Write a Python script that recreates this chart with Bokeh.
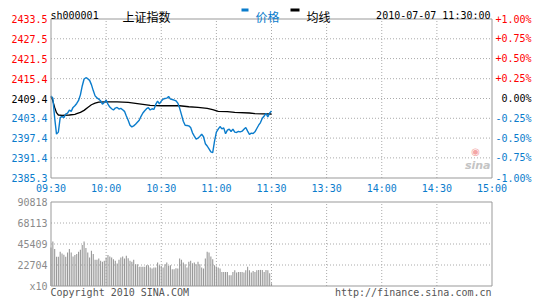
from bokeh.plotting import figure
from bokeh.models import Range1d, ColumnDataSource
from bokeh.core.properties import value
from bokeh.embed import file_html
from bokeh.resources import INLINE

# ---------------- data ----------------
minutes = list(range(121))  # minutes after 09:30
price = [2410.2, 2409.5, 2403.5, 2398.6, 2399.2, 2403.6, 2404.0, 2403.6, 2404.7, 2405.0,
         2405.9, 2405.5, 2406.7, 2407.2, 2407.9, 2408.8, 2410.5, 2413.2, 2415.3, 2415.7,
         2415.4, 2414.9, 2413.6, 2411.8, 2410.2, 2409.6, 2409.2, 2408.7, 2407.7, 2408.2,
         2408.9, 2407.7, 2406.8, 2406.3, 2405.9, 2406.5, 2406.7, 2406.2, 2406.4, 2406.0,
         2405.5, 2404.1, 2402.8, 2401.3, 2400.8, 2401.1, 2401.6, 2402.2, 2402.8, 2404.0,
         2405.0, 2405.7, 2406.3, 2406.6, 2405.9, 2406.3, 2406.1, 2407.6, 2408.6, 2407.8,
         2408.6, 2409.2, 2409.4, 2409.5, 2410.0, 2409.2, 2409.1, 2408.9, 2408.7, 2408.0,
         2406.5, 2404.5, 2402.5, 2401.3, 2401.2, 2401.1, 2400.6, 2399.0, 2398.0, 2397.1,
         2397.4, 2397.9, 2398.6, 2397.8, 2395.7, 2395.0, 2394.1, 2393.2, 2393.0, 2396.5,
         2399.2, 2400.1, 2400.9, 2400.2, 2400.5, 2398.7, 2399.8, 2400.1, 2399.4, 2400.1,
         2399.2, 2399.1, 2399.4, 2399.3, 2399.5, 2400.1, 2400.6, 2399.5, 2398.5, 2398.9,
         2398.8, 2399.3, 2400.3, 2401.3, 2402.1, 2403.4, 2404.1, 2404.9, 2403.8, 2405.0,
         2405.6]

avg_minutes = [0, 1, 2, 3, 4, 6, 10, 13, 14, 16, 18, 20, 22, 24, 26, 30, 36, 42, 46, 50,
               54, 60, 70, 75, 80, 85, 88, 91, 96, 100, 108, 111, 120]
avg_price = [2410.0, 2408.7, 2406.7, 2405.1, 2404.4, 2404.3, 2404.4, 2404.6, 2404.8, 2405.2,
             2405.8, 2406.7, 2407.5, 2408.0, 2408.3, 2408.4, 2408.4, 2408.2, 2407.9, 2407.6,
             2407.3, 2407.2, 2407.2, 2406.9, 2406.7, 2406.4, 2406.0, 2405.5, 2405.4, 2405.2,
             2405.0, 2404.8, 2404.7]

volume = [41700, 48000, 40000, 31600, 31600, 37000, 35200, 33800, 31600, 36300,
          40000, 36300, 32000, 33400, 34500, 37000, 39200, 44300, 48000, 41000,
          36300, 30900, 38100, 34500, 28300, 28300, 29800, 27200, 26100, 27200,
          30900, 33400, 32000, 30900, 29000, 27200, 24300, 28300, 30900, 32000,
          29800,
          32700, 30100, 27200, 26100, 28300, 23600, 23600, 20700, 20700, 20700,
          20700, 22500, 22500, 20000, 18900, 20000, 20000, 25400, 22500, 21800,
          20000, 23600, 25400, 21800, 22500, 18200, 18200, 19200, 18900, 29800,
          28300, 25400, 23600, 20000, 26100, 27200, 24700, 25400, 23600, 26100,
          23600,
          20000, 18900, 29800, 37000, 36300, 32000, 29000, 22500, 21000, 20000,
          18900, 15200, 15200, 15200, 15200, 11600, 11600, 15200, 17100, 14500,
          15200, 15200, 15200, 14500, 17100, 20700, 17100, 14500, 16300, 15200,
          17100, 17400, 17400, 17400, 15200, 17400, 17100, 13800, 2900]

x_tick_pos = [0, 30, 60, 90, 120, 150, 180, 210, 240]
x_tick_labels = ["09:30", "10:00", "10:30", "11:00", "11:30", "13:30", "14:00", "14:30", "15:00"]
prev_close = 2409.4
price_ticks = [2433.5, 2427.5, 2421.5, 2415.4, 2409.4, 2403.4, 2397.4, 2391.4, 2385.3]
pct_labels = ["+1.00%", "+0.75%", "+0.50%", "+0.25%", "0.00%", "-0.25%", "-0.50%", "-0.75%", "-1.00%"]
vol_ticks = [90818, 68113, 45409, 22704, 0]
vol_labels = ["90818", "68113", "45409", "22704", "x10"]
legend_names = ["价格", "均线"]

# ---------------- layout (page pixels) ----------------
W, H = 545, 300
L, R = 50.5, 491.5          # plot box left / right
PT, PB = 18.5, 177.5        # price panel top / bottom
VT, VB = 201.5, 285.5       # volume panel top / bottom

BLUE = "#0a7ccc"
RED = "#ff0000"
BLACK = "#000000"
GRAY = "#999999"
GRID = "#aaaaaa"
MONO = "DejaVu Sans Mono"
CJK = "Noto Sans CJK SC"

t_lo, t_hi = x_tick_pos[0], x_tick_pos[-1]
p_lo, p_hi = price_ticks[-1], price_ticks[0]
v_lo, v_hi = 0, vol_ticks[0]

ppm = (R - L) / (t_hi - t_lo)
ppu = (PB - PT) / (p_hi - p_lo)
ppv = (VB - VT) / (v_hi - v_lo)

p = figure(width=W, height=H, x_range=Range1d(0, W), y_range=Range1d(H, 0),
           output_backend="svg", toolbar_location=None,
           min_border=0, min_border_left=0, min_border_right=0,
           min_border_top=0, min_border_bottom=0,
           x_axis_location=None, y_axis_location=None)
p.outline_line_color = None
p.background_fill_color = "white"
p.border_fill_color = "white"
p.grid.grid_line_color = None

p.extra_x_ranges = {"t": Range1d(t_lo - L / ppm, t_hi + (W - R) / ppm)}
p.extra_y_ranges = {
    "price": Range1d(p_lo - (H - PB) / ppu, p_hi + PT / ppu),
    "vol": Range1d(v_lo - (H - VB) / ppv, v_hi + VT / ppv),
}


def tick_color(v):
    if abs(v - prev_close) < 0.05:
        return BLACK
    return RED if v > prev_close else BLUE


inner_t = x_tick_pos[1:-1]

# ---- grids ----
for yname, lo, hi, yticks in [("price", p_lo, p_hi, price_ticks[1:-1]),
                              ("vol", v_lo, v_hi, vol_ticks[1:-1])]:
    p.segment(x0=inner_t, y0=[lo] * len(inner_t), x1=inner_t, y1=[hi] * len(inner_t),
              x_range_name="t", y_range_name=yname,
              line_color=GRID, line_dash="1 2", line_width=1)
    p.segment(x0=[t_lo] * len(yticks), y0=yticks, x1=[t_hi] * len(yticks), y1=yticks,
              x_range_name="t", y_range_name=yname,
              line_color=GRID, line_dash="1 2", line_width=1)

# ---- volume bars ----
p.vbar(x=minutes, top=volume, width=0.6, bottom=0, fill_color=GRAY, line_color=None,
       x_range_name="t", y_range_name="vol")

# ---- price & average lines ----
p.line(avg_minutes, avg_price, line_color=BLACK, line_width=1.3,
       x_range_name="t", y_range_name="price")
p.line(minutes, price, line_color=BLUE, line_width=1.4,
       x_range_name="t", y_range_name="price")

# ---- panel boxes ----
p.quad(left=[t_lo], right=[t_hi], bottom=[p_lo], top=[p_hi], fill_color=None,
       line_color=GRAY, line_width=1, x_range_name="t", y_range_name="price")
p.quad(left=[t_lo], right=[t_hi], bottom=[v_lo], top=[v_hi], fill_color=None,
       line_color=GRAY, line_width=1, x_range_name="t", y_range_name="vol")

TXT = dict(text_font=value(MONO), text_font_size=value("10px"))

# ---- price axis labels (left) and percent labels (right) ----
left_src = ColumnDataSource(dict(x=[47] * len(price_ticks), y=price_ticks,
                                 text=[f"{v:.1f}" for v in price_ticks],
                                 color=[tick_color(v) for v in price_ticks]))
p.text(x="x", y="y", text="text", source=left_src, y_range_name="price",
       text_align="right", text_baseline="middle", text_color="color", **TXT)
right_src = ColumnDataSource(dict(x=[531] * len(price_ticks), y=price_ticks, text=pct_labels,
                                  color=[tick_color(v) for v in price_ticks]))
p.text(x="x", y="y", text="text", source=right_src, y_range_name="price",
       text_align="right", text_baseline="middle", text_color="color", **TXT)

# ---- time axis labels ----
p.text(x=x_tick_pos, y=[188] * len(x_tick_pos), text=x_tick_labels, x_range_name="t",
       text_align="center", text_baseline="middle", text_color=BLUE, **TXT)

# ---- volume axis labels ----
p.text(x=[47] * len(vol_ticks), y=vol_ticks, text=vol_labels, y_range_name="vol",
       text_align="right", text_baseline="middle", text_color="#8a8a8a", **TXT)

# ---- header ----
p.text(x=[50], y=[15], text=["sh000001"], text_align="left", text_baseline="alphabetic",
       text_color=BLACK, **TXT)
p.text(x=[122], y=[15.5], text=["上证指数"], text_align="left", text_baseline="alphabetic",
       text_color=BLACK, text_font=value(CJK), text_font_size=value("12px"))
p.text(x=[490], y=[15], text=["2010-07-07 11:30:00"], text_align="right",
       text_baseline="alphabetic", text_color=BLACK, **TXT)

# legend keys: short thick dashes followed by the series names
p.segment(x0=[241, 290], y0=[9.5, 9.5], x1=[248, 299], y1=[9.5, 9.5],
          line_color=[BLUE, BLACK], line_width=3)
p.text(x=[255, 306], y=[15.5, 15.5], text=legend_names, text_align="left",
       text_baseline="alphabetic", text_color=[BLUE, BLACK],
       text_font=value(CJK), text_font_size=value("12px"))

# ---- watermark ----
p.text(x=[475], y=[151], text=["◉"], text_align="center", text_baseline="middle",
       text_color="#f4a6a6", text_font=value("DejaVu Sans"), text_font_size=value("10px"))
p.text(x=[490], y=[165], text=["sina"], text_align="right", text_baseline="alphabetic",
       text_color="#c4c4c4", text_font=value("DejaVu Sans"), text_font_style="bold italic",
       text_font_size=value("11px"))

# ---- footer ----
p.text(x=[50], y=[292], text=["Copyright 2010 SINA.COM"], text_align="left",
       text_baseline="middle", text_color="#555555", **TXT)
p.text(x=[491], y=[292], text=["http://finance.sina.com.cn"], text_align="right",
       text_baseline="middle", text_color="#555555", **TXT)

open("out.html", "w").write(file_html(p, INLINE))
